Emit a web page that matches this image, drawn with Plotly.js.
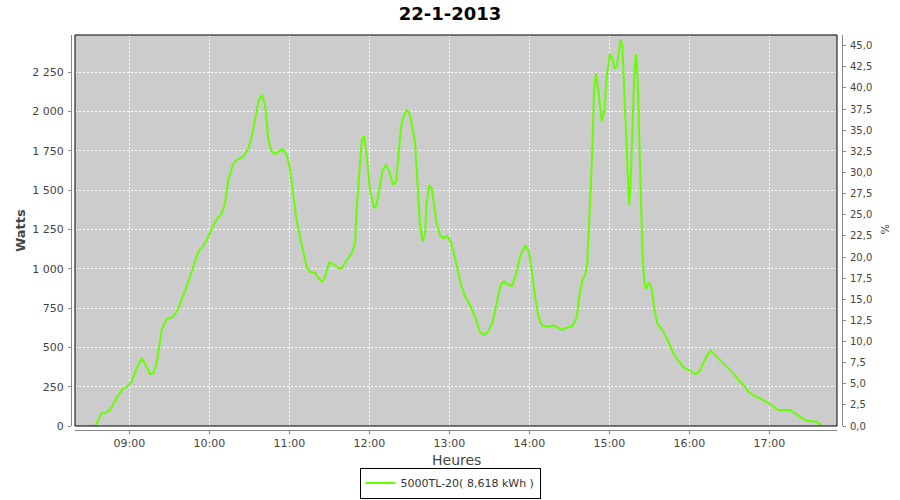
<!DOCTYPE html>
<html>
<head>
<meta charset="utf-8">
<script src="https://cdn.plot.ly/plotly-3.0.1.min.js"></script>
<style>
html,body{margin:0;padding:0;background:#fff;}
#chart{width:900px;height:500px;}
</style>
</head>
<body>
<div id="chart"></div>
<script>
// Data (22-1-2013)
var day = "2013-01-22";
var times = [
"08:29:00","08:34:20","08:35:30","08:39:20","08:41:50","08:45:30","08:50:30","08:54:20","08:58:00",
"09:01:50","09:05:30","09:09:20","09:13:00","09:15:30","09:18:00","09:20:30","09:24:20","09:28:00",
"09:33:00","09:36:50","09:43:00","09:48:00","09:51:50","09:56:50","10:00:30","10:04:20","10:09:20",
"10:11:50","10:14:20","10:18:00","10:21:50","10:25:30","10:29:20","10:31:50","10:34:20","10:36:50",
"10:39:20","10:41:50","10:44:20","10:46:50","10:49:20","10:51:50","10:54:50","10:58:00","11:00:30",
"11:03:00","11:05:30","11:08:00","11:10:30","11:13:00","11:15:30","11:19:20","11:21:50","11:24:50",
"11:26:50","11:30:00","11:33:00","11:36:50","11:39:20","11:43:00","11:46:50","11:49:20","11:50:30",
"11:52:30","11:54:20","11:56:00","11:58:00","12:00:30","12:03:50","12:05:30","12:08:00","12:10:00",
"12:12:30","12:15:00","12:18:00","12:20:00","12:21:50","12:23:50","12:26:00","12:28:00","12:30:00",
"12:31:50","12:34:20","12:36:00","12:38:00","12:39:50","12:41:50","12:43:00","12:45:00","12:46:50",
"12:48:30","12:50:30","12:53:00","12:55:30","12:58:30","13:01:00","13:03:30","13:06:00","13:08:30",
"13:11:50","13:15:30","13:19:20","13:23:00","13:26:00","13:29:20","13:32:30","13:35:30","13:38:30",
"13:41:00","13:44:20","13:46:50","13:50:00","13:53:00","13:56:50","13:59:20","14:01:50","14:04:20",
"14:06:50","14:09:50","14:14:20","14:18:00","14:21:20","14:24:20","14:28:00","14:32:30","14:35:30",
"14:37:30","14:39:50","14:41:50","14:43:30","14:44:50","14:46:00","14:47:20","14:48:30","14:50:00",
"14:51:50","14:54:20","14:56:20","14:58:00","15:00:30","15:02:20","15:03:50","15:05:30","15:06:50",
"15:08:30","15:09:50","15:11:20","15:12:20","15:13:30","15:14:50","15:16:00","15:17:30","15:18:50",
"15:20:00","15:21:20","15:22:30","15:23:50","15:25:00","15:26:20","15:27:30","15:29:30","15:31:50",
"15:33:30","15:36:00","15:40:30","15:44:20","15:48:00","15:51:50","15:55:30","16:00:00","16:04:20",
"16:07:30","16:10:30","16:13:30","16:16:00","16:19:20","16:25:30","16:33:00","16:40:30","16:45:30",
"16:53:00","17:00:30","17:06:50","17:15:30","17:23:00","17:28:00","17:35:30","17:39:30"
];
var watts = [
0,0,17,81,83,102,176,229,250,
282,367,431,377,331,335,399,611,681,
695,749,886,1013,1109,1162,1226,1300,1353,
1417,1565,1671,1698,1713,1766,1840,1947,2063,
2106,2042,1819,1745,1730,1745,1762,1724,1639,
1469,1310,1204,1098,1013,981,975,939,918,
950,1039,1030,1003,1003,1056,1098,1162,1374,
1586,1819,1845,1724,1501,1385,1406,1544,1628,
1660,1618,1533,1554,1713,1904,1978,2010,1989,
1925,1798,1544,1289,1172,1226,1417,1533,1512,
1417,1289,1215,1194,1209,1172,1098,992,908,
823,770,695,600,579,600,663,780,897,
918,897,891,961,1077,1145,1120,992,823,
695,638,632,642,628,611,626,636,690,
823,929,961,1035,1247,1501,1777,2116,2243,
2137,1936,2010,2222,2366,2339,2275,2286,2371,
2460,2413,2095,1840,1586,1406,1544,1883,2265,
2366,2201,1819,1310,1077,908,870,914,876,
759,653,600,536,462,420,373,356,331,
345,399,452,479,452,399,335,261,208,
176,140,102,102,59,34,27,0
];
var seriesName = "5000TL-20( 8,618 kWh )";
var chartTitle = "22-1-2013";
var xTitle = "Heures";
var yTitle = "Watts";
var y2Title = "%";
var xRange = ["08:19:17", "17:50:47"];
var yRange = [0, 2487];
var y2Range = [0, 46.27];

var xs = times.map(function(t){ return day + " " + t; });

var gridDash = "2px,2px";
var tickFont = {family: "DejaVu Sans, sans-serif", size: 11, color: "#444444"};

var traces = [
  {
    x: xs, y: watts, type: "scatter", mode: "lines",
    name: seriesName,
    line: {color: "#66FF00", width: 2},
    xaxis: "x", yaxis: "y",
    hoverinfo: "x+y"
  },
  {
    x: [xs[0]], y: [null], type: "scatter", mode: "lines",
    showlegend: false, hoverinfo: "skip",
    xaxis: "x", yaxis: "y2"
  }
];

var layout = {
  width: 900, height: 500,
  margin: {l: 71, r: 58, t: 35, b: 70, pad: 0},
  paper_bgcolor: "#FFFFFF",
  plot_bgcolor: "#CCCCCC",
  separators: ", ",
  font: {family: "DejaVu Sans, sans-serif", size: 11, color: "#444444"},
  title: {
    text: "<b>" + chartTitle + "</b>",
    font: {family: "DejaVu Sans, sans-serif", size: 18, color: "#000000"},
    x: 0.5, xref: "container", xanchor: "center",
    y: 0.973, yref: "container", yanchor: "middle"
  },
  showlegend: true,
  legend: {
    orientation: "h",
    x: 0.5, xref: "container", xanchor: "center",
    y: 0.003, yref: "container", yanchor: "bottom",
    bgcolor: "#FFFFFF", bordercolor: "#000000", borderwidth: 1,
    font: {family: "DejaVu Sans, sans-serif", size: 11, color: "#333333"},
    itemwidth: 30
  },
  xaxis: {
    type: "date",
    domain: [0.00519, 0.99351],
    anchor: "free", position: 0,
    range: [day + " " + xRange[0], day + " " + xRange[1]],
    tick0: day + " 09:00:00", dtick: 3600000,
    tickformat: "%H:%M",
    showgrid: true, gridcolor: "#FFFFFF", gridwidth: 1, griddash: gridDash,
    showline: true, linecolor: "#888888", linewidth: 1,
    ticks: "outside", ticklen: 3, tickcolor: "#888888",
    tickfont: tickFont,
    zeroline: false, fixedrange: true
  },
  yaxis: {
    domain: [0.0101, 1],
    anchor: "free", position: 0,
    range: yRange,
    tick0: 0, dtick: 250,
    tickformat: ",d",
    showgrid: true, gridcolor: "#FFFFFF", gridwidth: 1, griddash: gridDash,
    showline: true, linecolor: "#888888", linewidth: 1,
    ticks: "outside", ticklen: 3, tickcolor: "#888888",
    tickfont: tickFont,
    ticklabelstandoff: 2,
    zeroline: false, fixedrange: true
  },
  yaxis2: {
    overlaying: "y", side: "right",
    anchor: "free", position: 1,
    range: y2Range,
    tick0: 0, dtick: 2.5,
    tickformat: ".1f",
    showgrid: false,
    showline: true, linecolor: "#888888", linewidth: 1,
    ticks: "outside", ticklen: 3, tickcolor: "#888888",
    tickfont: {family: "DejaVu Sans, sans-serif", size: 10, color: "#444444"},
    ticklabelstandoff: 2,
    zeroline: false, fixedrange: true
  },
  shapes: [
    {type: "rect", xref: "x domain", yref: "y domain", x0: 0, x1: 1, y0: 0, y1: 1,
     line: {color: "#000000", width: 1}, fillcolor: "rgba(0,0,0,0)", layer: "above"}
  ],
  annotations: [
    {text: "<b>" + yTitle + "</b>", xref: "paper", yref: "paper", x: -0.0655, y: 0.505,
     textangle: -90, showarrow: false, xanchor: "center", yanchor: "middle",
     font: {family: "DejaVu Sans, sans-serif", size: 13, color: "#444444"}},
    {text: y2Title, xref: "paper", yref: "paper", x: 1.0564, y: 0.509,
     textangle: -90, showarrow: false, xanchor: "center", yanchor: "middle",
     font: {family: "DejaVu Sans, sans-serif", size: 11, color: "#444444"}},
    {text: xTitle, xref: "paper", yref: "paper", x: 0.4994, y: -0.0759,
     showarrow: false, xanchor: "center", yanchor: "middle",
     font: {family: "DejaVu Sans, sans-serif", size: 14, color: "#444444"}}
  ]
};

Plotly.newPlot("chart", traces, layout, {displayModeBar: false, staticPlot: true});
</script>
</body>
</html>
